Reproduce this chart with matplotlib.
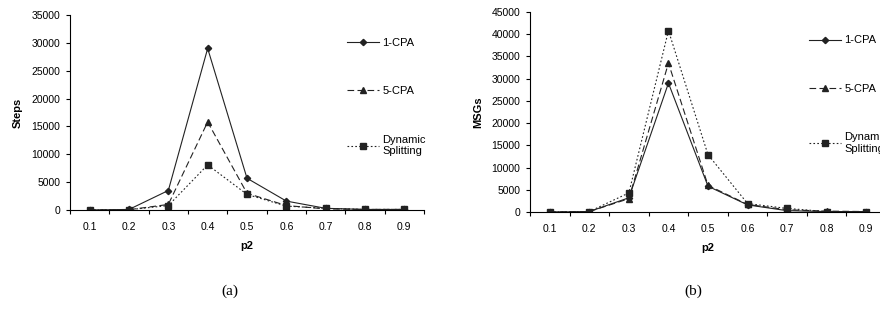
import matplotlib
matplotlib.use('Agg')
import matplotlib.pyplot as plt

plt.rcParams['font.family'] = ['Liberation Sans', 'DejaVu Sans']

p2 = ['0.1', '0.2', '0.3', '0.4', '0.5', '0.6', '0.7', '0.8', '0.9']

# (a) Steps
steps_1cpa = [0, 100, 3500, 29000, 5700, 1600, 300, 100, 100]
steps_5cpa = [0, 50, 1000, 15800, 3000, 800, 200, 100, 100]
steps_ds = [0, 50, 800, 8100, 2800, 700, 300, 100, 100]

# (b) MSGs
msgs_1cpa = [0, 100, 3200, 29000, 5800, 1600, 300, 100, 100]
msgs_5cpa = [0, 100, 3000, 33500, 6000, 1700, 500, 200, 100]
msgs_ds = [0, 100, 4300, 40800, 12900, 1900, 800, 100, 100]

labels = ['1-CPA', '5-CPA', 'Dynamic\nSplitting']

fig = plt.figure(figsize=(8.8, 3.2), dpi=100)
ax1 = fig.add_axes([70/880, 1-210/320, 354/880, 195/320])
ax2 = fig.add_axes([530/880, 1-212/320, 356/880, 200/320])


def draw(ax, s1, s5, sd, ymax, ylabel, legy):
    x = list(range(1, len(p2) + 1))
    ax.plot(x, s1, color='#222222', lw=0.8, ls='-', marker='D', ms=3.2, label=labels[0])
    ax.plot(x, s5, color='#222222', lw=0.8, ls=(0, (6, 3)), marker='^', ms=4, label=labels[1])
    ax.plot(x, sd, color='#222222', lw=0.8, ls=(0, (1.5, 2)), marker='s', ms=4, label=labels[2])
    ax.set_xlim(0.5, len(p2) + 0.5)
    ax.set_ylim(0, ymax)
    ax.set_yticks(range(0, ymax + 1, 5000))
    ax.set_xticks(x)
    ax.set_xticklabels(p2)
    ax.set_xticks([i + 0.5 for i in range(0, len(p2) + 1)], minor=True)
    ax.tick_params(axis='x', which='major', length=0, pad=9, labelsize=7.5)
    ax.tick_params(axis='x', which='minor', length=3, width=0.8)
    ax.tick_params(axis='y', length=3, width=0.8, labelsize=7.5, pad=4)
    for s in ['top', 'right']:
        ax.spines[s].set_visible(False)
    for s in ['left', 'bottom']:
        ax.spines[s].set_linewidth(0.8)
    ax.set_xlabel('p2', fontweight='bold', fontsize=8, labelpad=6)
    ax.set_ylabel(ylabel, fontweight='bold', fontsize=8, labelpad=6)
    ax.legend(loc='upper left', bbox_to_anchor=(0.77, legy), frameon=False,
              fontsize=8, handlelength=2.9, handletextpad=0.3, labelspacing=3.45,
              borderaxespad=0)


draw(ax1, steps_1cpa, steps_5cpa, steps_ds, 35000, 'Steps', 0.905)
draw(ax2, msgs_1cpa, msgs_5cpa, msgs_ds, 45000, 'MSGs', 0.905)

fig.text(230/880, 1-291/320, '(a)', family='Liberation Serif', fontsize=11,
         ha='center', va='center')
fig.text(693/880, 1-291/320, '(b)', family='Liberation Serif', fontsize=11,
         ha='center', va='center')

fig.savefig('out.png', dpi=100)
